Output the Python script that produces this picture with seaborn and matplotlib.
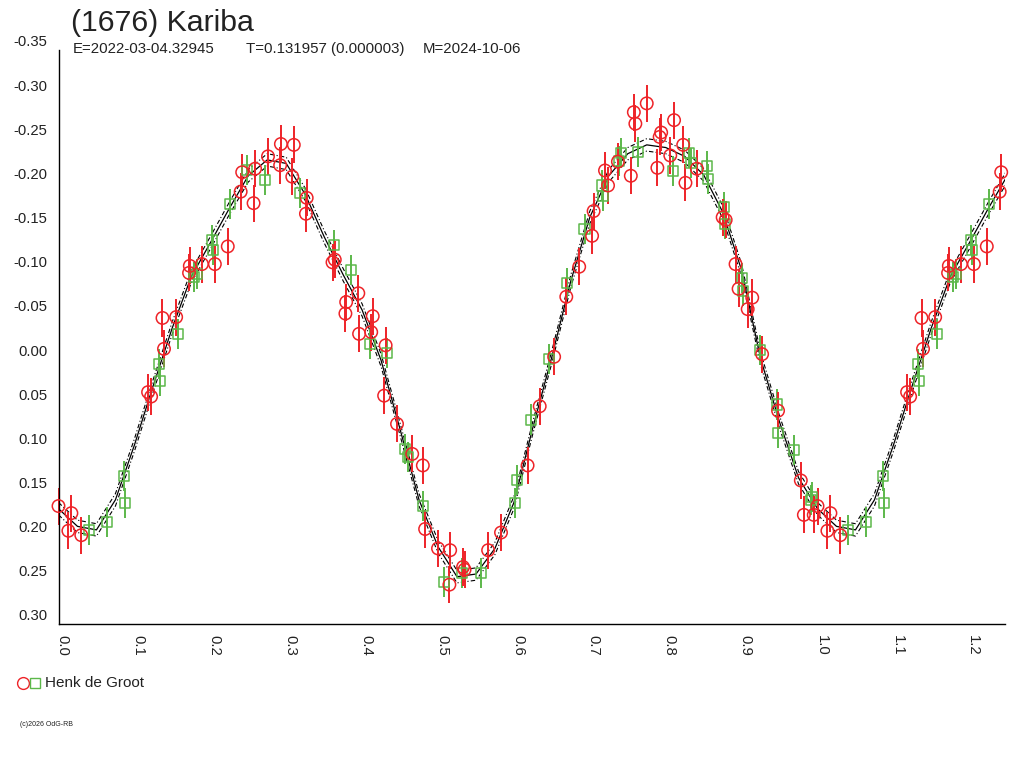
import numpy as np
import pandas as pd
import matplotlib
matplotlib.use("Agg")
import matplotlib.pyplot as plt
from matplotlib.lines import Line2D
import seaborn as sns

red_phase = [0.000, 0.013, 0.017, 0.030, 0.118, 0.122, 0.137, 0.139, 0.155, 0.172,
             0.173, 0.189, 0.206, 0.223, 0.240, 0.242, 0.257, 0.259, 0.276, 0.292,
             0.293, 0.308, 0.310, 0.326, 0.327, 0.361, 0.364, 0.378, 0.379, 0.395,
             0.396, 0.412, 0.414, 0.429, 0.431, 0.446, 0.466, 0.480, 0.483, 0.500,
             0.515, 0.516, 0.533, 0.535, 0.566, 0.583, 0.618, 0.634, 0.653, 0.669,
             0.686, 0.703, 0.705, 0.720, 0.724, 0.737, 0.754, 0.758, 0.760, 0.775,
             0.789, 0.792, 0.794, 0.806, 0.811, 0.823, 0.826, 0.841, 0.875, 0.879,
             0.892, 0.896, 0.908, 0.914, 0.927, 0.948, 0.978, 0.982, 0.995]
red_mag = [0.167, 0.195, 0.175, 0.200, 0.038, 0.043, -0.046, -0.011, -0.047, -0.097,
           -0.105, -0.107, -0.107, -0.127, -0.189, -0.211, -0.176, -0.215, -0.229, -0.219,
           -0.243, -0.206, -0.242, -0.164, -0.182, -0.109, -0.112, -0.051, -0.064, -0.074,
           -0.028, -0.030, -0.048, 0.042, -0.015, 0.074, 0.108, 0.121, 0.193, 0.215,
           0.256, 0.217, 0.236, 0.239, 0.217, 0.197, 0.121, 0.054, -0.002, -0.070,
           -0.104, -0.139, -0.167, -0.213, -0.196, -0.223, -0.207, -0.279, -0.266, -0.289,
           -0.216, -0.251, -0.256, -0.230, -0.270, -0.242, -0.199, -0.215, -0.160, -0.157,
           -0.107, -0.079, -0.056, -0.069, -0.005, 0.059, 0.138, 0.177, 0.177]

green_phase = [0.040, 0.064, 0.086, 0.087, 0.132, 0.134, 0.157, 0.178, 0.183, 0.202,
               0.203, 0.226, 0.248, 0.272, 0.318, 0.363, 0.386, 0.410, 0.433, 0.457,
               0.461, 0.480, 0.508, 0.532, 0.557, 0.601, 0.604, 0.623, 0.646, 0.670,
               0.693, 0.716, 0.718, 0.739, 0.741, 0.763, 0.809, 0.831, 0.833, 0.854,
               0.856, 0.877, 0.878, 0.901, 0.902, 0.924, 0.946, 0.948, 0.969, 0.991,
               0.993]
green_mag = [0.194, 0.185, 0.133, 0.163, 0.006, 0.025, -0.028, -0.092, -0.096, -0.134,
             -0.123, -0.175, -0.214, -0.202, -0.188, -0.129, -0.100, -0.016, -0.006, 0.102,
             0.112, 0.167, 0.253, 0.243, 0.243, 0.163, 0.138, 0.069, 0.000, -0.086,
             -0.147, -0.196, -0.184, -0.224, -0.233, -0.234, -0.212, -0.233, -0.222, -0.218,
             -0.203, -0.172, -0.152, -0.091, -0.076, -0.010, 0.052, 0.084, 0.104, 0.160,
             0.157]

red_err = 0.021
green_err = 0.017

# Fourier fit curve, with its uncertainty band
fit_phase = [0.000, 0.025, 0.050, 0.075, 0.100, 0.125, 0.150, 0.175, 0.200, 0.225,
             0.250, 0.275, 0.300, 0.325, 0.350, 0.375, 0.400, 0.425, 0.450, 0.475,
             0.500, 0.525, 0.550, 0.575, 0.600, 0.625, 0.650, 0.675, 0.700, 0.725,
             0.750, 0.775, 0.800, 0.825, 0.850, 0.875, 0.900, 0.925, 0.950, 0.975, 1.000]
fit_mag = [0.170, 0.190, 0.194, 0.160, 0.098, 0.030, -0.035, -0.093, -0.131, -0.170,
           -0.207, -0.225, -0.221, -0.186, -0.138, -0.095, -0.055, 0.002, 0.080, 0.160,
           0.213, 0.247, 0.244, 0.215, 0.163, 0.078, -0.002, -0.088, -0.160, -0.207,
           -0.232, -0.242, -0.239, -0.229, -0.208, -0.166, -0.100, 0.000, 0.072, 0.135, 0.170]
fit_band = 0.007

y_ticks = [-0.35, -0.30, -0.25, -0.20, -0.15, -0.10, -0.05, 0.00, 0.05, 0.10, 0.15, 0.20, 0.25, 0.30]
y_labels = ["-0.35", "-0.30", "-0.25", "-0.20", "-0.15", "-0.10", "-0.05",
            "0.00", "0.05", "0.10", "0.15", "0.20", "0.25", "0.30"]
x_ticks = [0.0, 0.1, 0.2, 0.3, 0.4, 0.5, 0.6, 0.7, 0.8, 0.9, 1.0, 1.1, 1.2]
x_labels = ["0.0", "0.1", "0.2", "0.3", "0.4", "0.5", "0.6", "0.7", "0.8", "0.9", "1.0", "1.1", "1.2"]
x_max = 1.247

title = "(1676) Kariba"
subtitle_parts = ["E=2022-03-04.32945", "T=0.131957 (0.000003)", "M=2024-10-06"]
subtitle_x = [73, 246, 423]
observer = "Henk de Groot"
credit = "(c)2026 OdG-RB"

RED = "#ee2328"
GREEN = "#5cb84a"

sns.set_theme(style="white")
plt.rcParams["font.family"] = ["Liberation Sans", "DejaVu Sans"]


def wrap(phase, mag):
    # phase-folded data is repeated past 1.0 up to the right edge
    df = pd.DataFrame({"phase": phase, "mag": mag})
    extra = df[df["phase"] + 1 <= x_max].copy()
    extra["phase"] += 1
    return pd.concat([df, extra], ignore_index=True)


red = wrap(red_phase, red_mag)
green = wrap(green_phase, green_mag)
fit = pd.DataFrame({"phase": fit_phase, "mag": fit_mag})
fit_ext = fit[fit["phase"] <= 0.26].copy()
fit_ext["phase"] += 1
fit = pd.concat([fit, fit_ext.iloc[1:]], ignore_index=True)

fig = plt.figure(figsize=(10.24, 7.68), dpi=100)
ax = fig.add_axes([58.5 / 1024, 1 - 623.5 / 768, (1005 - 58.5) / 1024, (623.5 - 49.5) / 768])

# fit curve and its band
sns.lineplot(data=fit, x="phase", y="mag", color="black", lw=0.9, ax=ax, sort=False)
ax.plot(fit["phase"], fit["mag"] - fit_band, color="black", lw=0.8, ls=(0, (4, 2, 1, 2)))
ax.plot(fit["phase"], fit["mag"] + fit_band, color="black", lw=0.8, ls=(0, (4, 2, 1, 2)))

# observations with error bars
ax.vlines(green["phase"], green["mag"] - green_err, green["mag"] + green_err,
          color=GREEN, lw=1.4, clip_on=False)
ax.vlines(red["phase"], red["mag"] - red_err, red["mag"] + red_err,
          color=RED, lw=1.4, clip_on=False)
sns.scatterplot(data=green, x="phase", y="mag", marker="s", s=52, facecolor="none",
                edgecolor=GREEN, linewidth=1.1, ax=ax, clip_on=False, zorder=3)
sns.scatterplot(data=red, x="phase", y="mag", marker="o", s=80, facecolor="none",
                edgecolor=RED, linewidth=1.1, ax=ax, clip_on=False, zorder=3)

ax.set_xlim(0, x_max)
ax.set_ylim(0.30, -0.35)
ax.set_xlabel("")
ax.set_ylabel("")
for side in ["top", "right"]:
    ax.spines[side].set_visible(False)
for side in ["left", "bottom"]:
    ax.spines[side].set_color("black")
    ax.spines[side].set_linewidth(1.0)

ax.set_yticks(y_ticks)
ax.set_yticklabels(y_labels)
ax.set_xticks(x_ticks)
ax.set_xticklabels(x_labels)
ax.set_xticks(np.array(x_ticks[:-1]) + 0.05, minor=True)
ax.tick_params(axis="both", which="both", direction="out", length=7.3, width=1.0,
               color="black", labelsize=10.7, labelcolor="#222222")
ax.tick_params(axis="y", pad=0.5)
ax.tick_params(axis="x", pad=1)
for lbl in ax.get_yticklabels():
    lbl.set_va("bottom")
for lbl in ax.get_xticklabels():
    lbl.set_rotation(270)
    lbl.set_rotation_mode("anchor")
    lbl.set_ha("left")
    lbl.set_va("baseline")

fig.text(71 / 1024, 1 - 31 / 768, title, fontsize=21.8, va="baseline", color="#222222")
for part, px in zip(subtitle_parts, subtitle_x):
    fig.text(px / 1024, 1 - 53 / 768, part, fontsize=10.8, va="baseline", color="#222222")

fig.add_artist(Line2D([23 / 1024], [1 - 683 / 768], marker="o", ms=8.5, mfc="none",
                      mec=RED, mew=1.0, transform=fig.transFigure))
fig.add_artist(Line2D([35 / 1024], [1 - 683 / 768], marker="s", ms=6.5, mfc="none",
                      mec=GREEN, mew=1.0, transform=fig.transFigure))
fig.text(45 / 1024, 1 - 683 / 768, observer, fontsize=11, va="center", color="#222222")
fig.text(20 / 1024, 1 - 725 / 768, credit, fontsize=5, va="center", color="#222222")

fig.savefig("out.png", dpi=100)
